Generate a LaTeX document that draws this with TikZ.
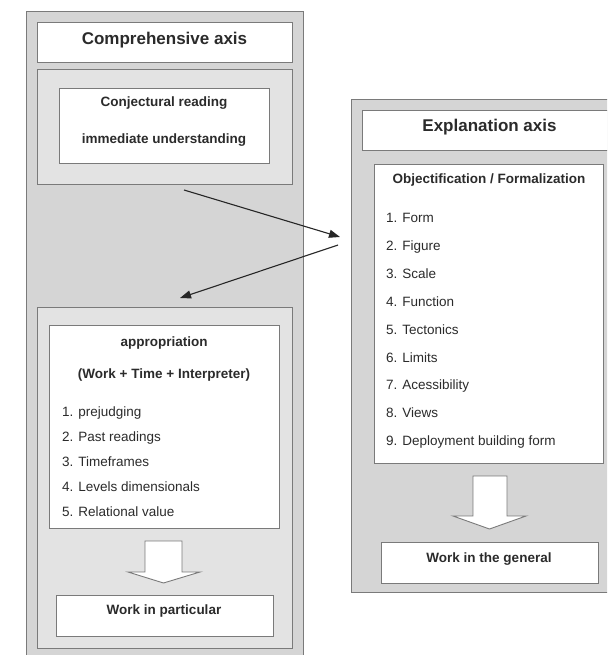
\documentclass[tikz,border=0pt]{standalone}
\usepackage{fontspec}
\setmainfont{Liberation Sans}
\usetikzlibrary{arrows.meta}
\definecolor{edge}{HTML}{7A7A7A}
\definecolor{panelgray}{HTML}{D5D5D5}
\definecolor{secgray}{HTML}{E3E3E3}
\definecolor{txt}{HTML}{2B2B2B}
\tikzset{
  panel/.style={draw=edge, fill=panelgray, line width=0.9pt, inner sep=0pt, outer sep=0pt},
  section/.style={draw=edge, fill=secgray, line width=0.9pt, inner sep=0pt, outer sep=0pt},
  wbox/.style={draw=edge, fill=white, line width=0.9pt, inner sep=0pt, outer sep=0pt},
  ttl/.style={font=\fontsize{17}{20}\selectfont\bfseries, text=txt, anchor=base, inner sep=0pt},
  bt/.style={font=\fontsize{13.5}{16}\selectfont\bfseries, text=txt, anchor=base, inner sep=0pt},
  itemtext/.style={font=\fontsize{13.5}{16}\selectfont, text=txt, anchor=base west, inner sep=0pt},
  blockarrow/.style={draw=edge, fill=white, line width=0.9pt, line join=miter},
  conn/.style={-{Triangle[length=11pt,width=8pt]}, line width=1.1pt, draw=black!85}
}
\begin{document}
\begin{tikzpicture}[x=1pt,y=-1pt]
\clip (0,0) rectangle (607,655);
\fill[white] (0,0) rectangle (607,655);
% ---------- left: comprehensive axis ----------
\node[panel, minimum width=277pt, minimum height=649pt] (lpanel) at (164.5,335.5) {};
\node[wbox, minimum width=255pt, minimum height=40pt] (ltitle) at (164.5,42) {};
\node[ttl] (ltitletext) at (164.5,44.5) {Comprehensive axis};
\node[section, minimum width=255pt, minimum height=115pt] (lsec1) at (164.5,126.5) {};
\node[wbox, minimum width=210pt, minimum height=75pt] (conj) at (164,125.5) {};
\node[bt] (conj1) at (164,107) {Conjectural reading};
\node[bt] (conj2) at (164,143.5) {immediate understanding};
\node[section, minimum width=255pt, minimum height=341pt] (lsec2) at (164.5,477.5) {};
\node[wbox, minimum width=230pt, minimum height=203pt] (approp) at (164,426.5) {};
\node[bt] (approp1) at (164,346) {appropriation};
\node[bt] (approp2) at (164,378) {(Work + Time + Interpreter)};
\node[itemtext] (li1) at (62,416) {1. prejudging};
\node[itemtext] (li2) at (62,441) {2. Past readings};
\node[itemtext] (li3) at (62,466) {3. Timeframes};
\node[itemtext] (li4) at (62,491) {4. Levels dimensionals};
\node[itemtext] (li5) at (62,516) {5. Relational value};
\draw[blockarrow] (145,541) -- (182,541) -- (182,572) -- (200,572) -- (163.5,583) -- (128,572) -- (145,572) -- cycle;
\node[wbox, minimum width=217pt, minimum height=41pt] (wpart) at (164.5,615.5) {};
\node[bt] (wparttext) at (164,614.5) {Work in particular};
% ---------- right: explanation axis ----------
\node[panel, minimum width=269pt, minimum height=493pt] (rpanel) at (485.5,345.5) {};
\node[wbox, minimum width=254pt, minimum height=40pt] (rtitle) at (489,130) {};
\node[ttl] (rtitletext) at (489.5,132) {Explanation axis};
\node[wbox, minimum width=229pt, minimum height=299pt] (objf) at (488.5,313.5) {};
\node[bt] (objftext) at (489,183) {Objectification / Formalization};
\node[itemtext] (ri1) at (386,222.5) {1. Form};
\node[itemtext] (ri2) at (386,250.4) {2. Figure};
\node[itemtext] (ri3) at (386,278.3) {3. Scale};
\node[itemtext] (ri4) at (386,306.2) {4. Function};
\node[itemtext] (ri5) at (386,334.1) {5. Tectonics};
\node[itemtext] (ri6) at (386,362) {6. Limits};
\node[itemtext] (ri7) at (386,389.9) {7. Acessibility};
\node[itemtext] (ri8) at (386,417.8) {8. Views};
\node[itemtext] (ri9) at (386,445.7) {9. Deployment building form};
\draw[blockarrow] (473,476) -- (507,476) -- (507,516) -- (526,516) -- (489.5,529) -- (453,516) -- (473,516) -- cycle;
\node[wbox, minimum width=217pt, minimum height=41pt] (wgen) at (489.5,562.5) {};
\node[bt] (wgentext) at (489,562.5) {Work in the general};
% ---------- connectors ----------
\coordinate (a1s) at (184,190);
\coordinate (a1e) at (340,237);
\coordinate (a2s) at (338,245);
\coordinate (a2e) at (180,298);
\draw[conn] (a1s) -- (a1e);
\draw[conn] (a2s) -- (a2e);
\end{tikzpicture}
\end{document}
